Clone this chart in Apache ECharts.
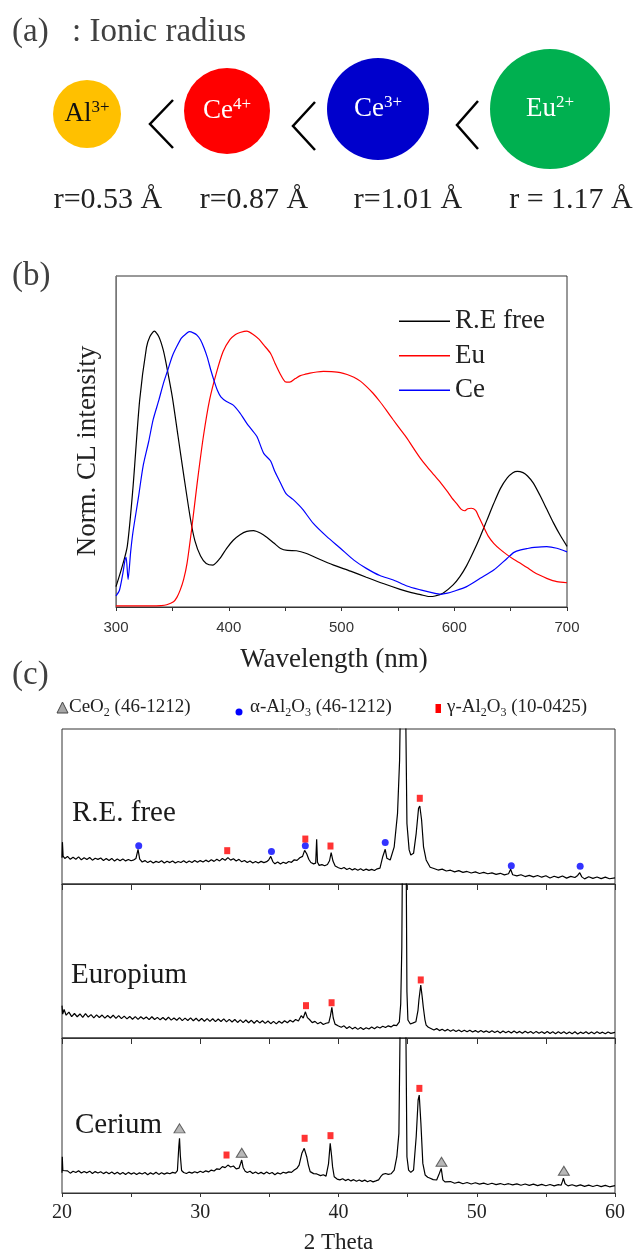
<!DOCTYPE html>
<html><head><meta charset="utf-8">
<script src="https://cdn.jsdelivr.net/npm/echarts@6/dist/echarts.min.js"></script>
<style>html,body{margin:0;padding:0;background:#fff}#c{width:644px;height:1255px}</style>
</head><body><div id="c"></div>
<script>
const SERIF = '"Liberation Serif", "Times New Roman", serif';
const SANS = '"Liberation Sans", Arial, sans-serif';

// ---------- Panel (a): ionic radius ----------
const ionSymbols = ['Al', 'Ce', 'Ce', 'Eu'];
const ionCharges = ['3+', '4+', '3+', '2+'];
const ionRadii = ['0.53', '0.87', '1.01', '1.17'];

// ---------- Panel (b): CL spectra (wavelength nm, normalized intensity) ----------
const bSeriesNames = ['R.E free', 'Eu', 'Ce'];
const bFree = [[300,0.074],[305,0.14],[310,0.22],[315,0.43],[321,0.75],[327,0.94],[330,0.98],[334,1.0],[338,0.98],[342,0.93],[346,0.85],[350,0.76],[355,0.62],[360,0.48],[366,0.32],[370,0.24],[375,0.185],[380,0.158],[386,0.152],[392,0.175],[398,0.212],[404,0.242],[410,0.262],[416,0.274],[422,0.277],[428,0.268],[434,0.252],[440,0.232],[446,0.212],[452,0.205],[460,0.204],[469,0.194],[480,0.174],[493,0.152],[508,0.13],[522,0.108],[537,0.085],[552,0.064],[562,0.052],[570,0.045],[578,0.038],[583,0.04],[590,0.05],[599,0.08],[605,0.11],[611,0.15],[617,0.2],[623,0.255],[629,0.315],[635,0.375],[641,0.43],[647,0.468],[652,0.487],[656,0.492],[661,0.487],[665,0.475],[670,0.45],[676,0.405],[682,0.355],[688,0.305],[694,0.26],[700,0.22]];
const bEu = [[300,0.004],[330,0.004],[340,0.005],[345,0.008],[351,0.019],[354,0.035],[357,0.062],[360,0.1],[363,0.158],[367,0.279],[372,0.449],[377.5,0.618],[383,0.751],[389,0.848],[395,0.926],[401,0.969],[406,0.988],[410,0.995],[416,1.0],[422,0.987],[427,0.97],[431,0.95],[437,0.92],[441,0.884],[446,0.842],[450,0.817],[454,0.815],[459,0.828],[463,0.838],[468,0.844],[472,0.848],[478,0.852],[484,0.854],[491,0.853],[499,0.85],[505,0.843],[511,0.833],[517,0.818],[522,0.8],[528,0.775],[534,0.745],[540,0.712],[546,0.678],[552,0.645],[558,0.612],[564,0.575],[570,0.539],[576,0.508],[582,0.479],[588,0.45],[594,0.418],[598,0.395],[602,0.376],[606,0.355],[609,0.349],[612,0.356],[615,0.358],[619,0.35],[622,0.325],[626,0.291],[630,0.258],[635,0.231],[641,0.208],[647,0.189],[653,0.172],[659,0.158],[665,0.142],[670,0.128],[676,0.115],[682,0.104],[691,0.092],[700,0.088]];
const bCe = [[300,0.04],[303,0.06],[306,0.12],[308,0.17],[309,0.18],[310.7,0.10],[313,0.2],[315,0.27],[320,0.4],[324,0.51],[329,0.6],[333,0.68],[338,0.75],[342,0.81],[346,0.86],[350,0.91],[354,0.945],[358,0.975],[362,0.99],[365,0.998],[369,0.993],[372,0.985],[375,0.968],[378,0.94],[381,0.905],[384,0.86],[387,0.82],[390,0.785],[393,0.762],[398,0.745],[404,0.732],[410,0.703],[416,0.666],[420,0.645],[425,0.618],[431,0.557],[437,0.53],[441,0.49],[446,0.449],[451,0.41],[457,0.39],[462,0.37],[466,0.352],[475,0.303],[487,0.255],[499,0.213],[511,0.17],[522,0.14],[534,0.114],[546,0.098],[558,0.076],[570,0.062],[582,0.05],[588,0.046],[594,0.05],[599,0.056],[611,0.074],[623,0.104],[635,0.134],[647,0.177],[653,0.198],[659,0.207],[665,0.212],[671,0.216],[682,0.219],[691,0.213],[700,0.2]];
// annotations: [main text, superscript, wavelength, intensity]
const bNotes = [['α','',331,1.088],['Ce','',369.6,1.074],['γ,a','',425,1.076],['Eu','2+',500.9,0.944],['Eu','3+',619.3,0.479],['α','',653.9,0.584]];

// ---------- Panel (c): XRD (2 theta, intensity 0-100 within each strip) ----------
const cSampleNames = ['R.E. free', 'Europium', 'Cerium'];
const xrdFree = [[20.0,17],[20.03,27],[20.08,18],[20.2,16.5],[20.4,17.8],[20.6,15.9],[20.8,17.2],[21.0,16.0],[21.2,17.5],[21.4,15.6],[21.6,16.9],[21.8,15.8],[22.0,17.1],[22.2,15.4],[22.4,16.6],[22.6,15.9],[22.8,16.8],[23.0,15.2],[23.2,16.4],[23.4,15.1],[23.6,16.5],[23.8,14.8],[24.0,16.1],[24.2,15.0],[24.4,16.2],[24.6,14.9],[24.8,15.8],[25.0,15.0],[25.2,15.6],[25.35,16.5],[25.5,22.4],[25.62,16.0],[25.8,14.2],[26.0,15.1],[26.2,13.8],[26.4,14.9],[26.6,13.6],[26.8,14.6],[27.0,13.9],[27.2,15.0],[27.4,13.5],[27.6,14.7],[27.8,13.8],[28.0,14.9],[28.2,13.6],[28.4,14.5],[28.6,13.9],[28.8,15.0],[29.0,13.7],[29.2,14.8],[29.4,13.9],[29.6,15.2],[29.8,14.0],[30.0,15.1],[30.2,14.2],[30.4,15.4],[30.6,14.3],[30.8,15.6],[31.0,14.6],[31.2,16.0],[31.4,14.9],[31.6,16.4],[31.8,15.3],[32.0,17.0],[32.2,15.4],[32.4,16.3],[32.6,14.8],[32.8,15.9],[33.0,14.3],[33.2,15.2],[33.4,13.9],[33.6,14.9],[33.8,13.6],[34.0,14.5],[34.2,13.5],[34.4,14.6],[34.6,13.8],[34.8,14.4],[34.95,15.5],[35.1,17.8],[35.25,14.5],[35.4,13.0],[35.6,14.2],[35.8,12.9],[36.0,14.0],[36.2,13.3],[36.4,14.5],[36.6,14.0],[36.8,15.6],[37.0,15.2],[37.2,16.9],[37.4,17.8],[37.55,21.7],[37.7,19.5],[37.85,16.0],[38.0,13.9],[38.2,13.0],[38.35,13.5],[38.42,28.8],[38.48,14.0],[38.6,12.0],[38.8,12.5],[39.0,11.8],[39.2,12.6],[39.35,15.0],[39.47,20.2],[39.6,14.8],[39.76,11.6],[40.0,10.5],[40.2,9.8],[40.4,10.6],[40.6,9.4],[40.8,10.2],[41.0,9.1],[41.2,9.9],[41.4,8.9],[41.6,9.8],[41.8,8.7],[42.0,9.6],[42.2,8.8],[42.4,9.4],[42.6,8.7],[42.8,9.8],[43.0,10.2],[43.2,17.6],[43.38,22.4],[43.5,16.6],[43.74,15.5],[44.03,24],[44.27,45.6],[44.42,80],[44.5,130],[44.6,170],[44.75,170],[44.85,120],[44.95,39],[45.11,22],[45.23,18.7],[45.43,19.8],[45.62,32.7],[45.79,48.8],[45.88,50.3],[46.01,41.3],[46.15,24],[46.34,15.5],[46.63,10.8],[46.9,10.0],[47.2,9.0],[47.5,9.6],[47.8,8.4],[48.1,8.9],[48.4,7.8],[48.7,8.6],[49.0,7.5],[49.3,8.1],[49.6,7.1],[49.9,7.8],[50.2,6.8],[50.5,7.5],[50.8,6.6],[51.1,7.2],[51.4,6.2],[51.7,6.9],[52.0,5.9],[52.3,6.6],[52.45,9.5],[52.6,6.0],[52.9,5.2],[53.2,6.0],[53.5,4.8],[53.8,5.6],[54.1,4.6],[54.4,5.5],[54.7,4.4],[55.0,5.3],[55.3,3.9],[55.6,5.0],[55.9,4.1],[56.2,5.2],[56.5,3.8],[56.8,4.9],[57.1,4.2],[57.3,5.5],[57.45,7.3],[57.6,4.6],[57.8,3.3],[58.1,4.7],[58.4,3.6],[58.7,4.5],[59.0,3.5],[59.3,4.4],[59.6,3.4],[60.0,4.0]];
const xrdEu = [[20.0,21],[20.05,15.5],[20.15,18.5],[20.3,14.8],[20.5,16.8],[20.7,13.9],[20.9,15.9],[21.1,13.8],[21.3,15.6],[21.5,13.4],[21.7,15.8],[21.9,13.6],[22.1,15.2],[22.3,13.1],[22.5,15.0],[22.7,13.3],[22.9,14.9],[23.1,12.9],[23.3,14.6],[23.5,13.0],[23.7,14.8],[23.9,12.7],[24.1,14.5],[24.3,12.6],[24.5,14.2],[24.7,12.4],[24.9,14.0],[25.1,12.2],[25.3,13.9],[25.5,12.1],[25.7,13.8],[25.9,12.3],[26.1,13.6],[26.3,11.9],[26.5,13.8],[26.7,12.0],[26.9,13.4],[27.1,11.8],[27.3,13.3],[27.5,11.7],[27.7,13.5],[27.9,11.6],[28.1,13.0],[28.3,11.5],[28.5,13.2],[28.7,11.3],[28.9,12.9],[29.1,11.4],[29.3,13.1],[29.5,11.2],[29.7,12.8],[29.9,11.0],[30.1,12.7],[30.3,10.9],[30.5,12.6],[30.7,10.8],[30.9,12.5],[31.1,10.6],[31.3,12.3],[31.5,10.7],[31.7,12.4],[31.9,10.5],[32.1,12.1],[32.3,10.4],[32.5,12.0],[32.7,10.1],[32.9,11.8],[33.1,10.0],[33.3,11.7],[33.5,9.9],[33.7,11.5],[33.9,9.6],[34.1,11.4],[34.3,9.8],[34.5,11.2],[34.7,9.5],[34.9,11.0],[35.1,9.3],[35.3,10.8],[35.5,9.2],[35.7,10.9],[35.9,9.6],[36.1,11.2],[36.3,9.9],[36.5,11.5],[36.7,10.4],[36.9,12.0],[37.1,11.0],[37.3,14.5],[37.45,13.0],[37.6,17.0],[37.75,13.2],[37.9,12.0],[38.1,10.0],[38.3,10.8],[38.5,9.2],[38.7,10.2],[38.9,8.8],[39.1,9.6],[39.3,10.0],[39.42,14.5],[39.52,19.9],[39.62,13.0],[39.75,9.0],[40.0,7.8],[40.2,7.0],[40.4,7.9],[40.6,6.2],[40.8,7.4],[41.0,5.9],[41.2,7.0],[41.4,5.6],[41.6,6.8],[41.8,5.5],[42.0,6.7],[42.2,5.8],[42.4,7.1],[42.6,6.0],[42.8,7.3],[43.0,6.5],[43.2,7.6],[43.4,6.8],[43.6,7.9],[43.8,7.2],[44.0,8.4],[44.2,8.0],[44.4,10.5],[44.5,22],[44.58,59],[44.64,140],[44.88,140],[44.95,30],[45.02,11.7],[45.2,9.1],[45.4,9.8],[45.6,10.6],[45.75,18],[45.82,25],[45.95,34.4],[46.05,27],[46.13,20.3],[46.25,12],[46.34,8.4],[46.5,7.0],[46.64,6.3],[46.9,5.2],[47.1,6.1],[47.3,4.8],[47.5,5.7],[47.7,4.6],[47.9,5.6],[48.1,4.4],[48.3,5.3],[48.5,4.2],[48.7,5.2],[48.9,4.1],[49.1,5.0],[49.3,4.0],[49.5,5.1],[49.7,3.9],[49.9,4.8],[50.1,3.7],[50.3,4.9],[50.5,3.8],[50.7,4.6],[50.9,3.5],[51.1,4.7],[51.3,3.6],[51.5,4.5],[51.7,3.3],[51.9,4.6],[52.1,3.4],[52.3,4.4],[52.5,3.2],[52.7,4.5],[52.9,3.3],[53.1,4.3],[53.3,3.1],[53.5,4.4],[53.7,3.2],[53.9,4.2],[54.1,3.0],[54.3,4.3],[54.5,3.1],[54.7,4.1],[54.9,3.0],[55.1,4.2],[55.3,2.9],[55.5,4.0],[55.7,2.8],[55.9,4.1],[56.1,2.9],[56.3,4.0],[56.5,2.7],[56.7,3.9],[56.9,2.8],[57.1,4.0],[57.3,2.6],[57.5,3.8],[57.7,2.9],[57.9,4.1],[58.1,2.7],[58.3,3.9],[58.5,2.8],[58.7,4.0],[58.9,2.9],[59.1,3.8],[59.3,2.7],[59.5,3.9],[59.7,3.0],[60.0,3.6]];
const xrdCe = [[20.0,13],[20.02,23.4],[20.06,14.5],[20.2,13.4],[20.4,14.3],[20.6,12.8],[20.8,14.0],[21.0,13.2],[21.2,14.4],[21.4,12.9],[21.6,13.9],[21.8,13.0],[22.0,14.1],[22.2,12.6],[22.4,13.8],[22.6,12.9],[22.8,13.7],[23.0,12.5],[23.2,13.6],[23.4,12.4],[23.6,13.5],[23.8,12.3],[24.0,13.4],[24.2,12.1],[24.4,13.2],[24.6,12.0],[24.8,13.3],[25.0,12.2],[25.2,13.1],[25.4,11.9],[25.6,13.0],[25.8,12.3],[26.0,13.2],[26.2,11.8],[26.4,13.0],[26.6,12.1],[26.8,13.4],[27.0,12.0],[27.2,13.1],[27.4,12.2],[27.6,13.0],[27.8,12.4],[28.0,13.3],[28.2,12.8],[28.35,14.5],[28.45,30],[28.5,35.3],[28.56,24],[28.65,14.5],[28.8,13.2],[29.0,12.6],[29.2,13.5],[29.4,12.8],[29.6,13.7],[29.8,13.0],[30.0,14.0],[30.2,13.2],[30.4,14.3],[30.6,13.6],[30.8,14.8],[31.0,14.2],[31.2,15.6],[31.4,15.2],[31.6,17.0],[31.8,16.4],[32.0,18.0],[32.2,16.8],[32.4,17.4],[32.6,15.6],[32.8,16.0],[32.92,19],[33.0,21.3],[33.1,16.5],[33.25,14.0],[33.4,13.2],[33.6,14.0],[33.8,12.6],[34.0,13.5],[34.2,12.4],[34.4,13.3],[34.6,12.2],[34.8,13.5],[35.0,12.4],[35.2,13.2],[35.4,11.8],[35.6,13.0],[35.8,12.3],[36.0,13.4],[36.2,12.8],[36.4,13.6],[36.6,13.3],[36.8,14.8],[37.0,16.0],[37.15,18.0],[37.35,25.6],[37.52,28.8],[37.7,23.4],[37.82,18],[37.95,13.8],[38.2,12.5],[38.43,12.3],[38.7,11.2],[38.9,11.8],[39.1,10.9],[39.28,19],[39.4,32],[39.5,24],[39.57,17],[39.69,10.5],[39.9,9.0],[40.1,8.5],[40.3,9.2],[40.5,8.0],[40.7,8.9],[40.9,7.8],[41.1,8.6],[41.3,7.6],[41.5,8.4],[41.7,7.5],[41.9,8.3],[42.1,7.3],[42.3,8.1],[42.5,7.2],[42.7,7.8],[42.9,8.5],[43.05,10.5],[43.2,12.0],[43.4,12.6],[43.6,12.0],[43.8,12.4],[44.03,14.8],[44.22,23.4],[44.37,38.5],[44.46,110],[44.55,160],[44.8,160],[44.88,100],[44.95,23.4],[45.07,14.8],[45.23,13.3],[45.43,14.8],[45.62,36.3],[45.76,60],[45.84,63.2],[45.96,45],[46.1,19.1],[46.27,11.6],[46.45,10.2],[46.63,9.5],[46.85,8.6],[47.1,8.4],[47.3,12.7],[47.43,15.9],[47.55,8.5],[47.7,7.2],[47.84,6.7],[48.1,7.4],[48.4,6.3],[48.7,7.0],[49.0,6.0],[49.3,6.8],[49.6,5.8],[49.9,6.6],[50.2,5.7],[50.5,6.4],[50.8,5.5],[51.1,6.3],[51.4,5.4],[51.7,6.1],[52.0,5.3],[52.3,6.0],[52.6,5.2],[52.9,5.9],[53.2,5.0],[53.5,5.8],[53.8,4.9],[54.1,5.7],[54.4,4.8],[54.7,5.6],[55.0,4.7],[55.3,5.5],[55.6,4.6],[55.9,5.4],[56.1,5.0],[56.2,7.5],[56.27,9.5],[56.39,6.0],[56.6,4.6],[56.9,5.3],[57.2,4.4],[57.5,5.2],[57.8,4.3],[58.1,5.1],[58.4,4.2],[58.7,5.0],[59.0,4.1],[59.3,4.9],[59.6,4.0],[60.0,4.8]];
// phase markers [2theta, height]
const freeAlpha = [[25.55,24.7],[35.15,20.9],[37.6,24.7],[43.38,26.7],[52.5,11.8],[57.48,11.4]];
const freeGamma = [[31.95,21.5],[37.6,29],[39.42,24.5],[45.88,55.3]];
const euGamma = [[37.65,21],[39.5,22.9],[45.95,37.7]];
const ceCeO2 = [[28.5,41.7],[33.0,26],[47.45,20.2],[56.3,14.4]];
const ceGamma = [[31.9,24.5],[37.55,35.3],[39.42,37],[45.85,67.5]];
const phaseLegend = [['CeO','2','',' (46-1212)'],['α-Al','2','O','3',' (46-1212)'],['γ-Al','2','O','3',' (10-0425)']];

// ---------- layout / style ----------
const ionStyle = [
  {cx:87, cy:114, r:34, fill:'#FFC000', text:'#111'},
  {cx:227, cy:111, r:43, fill:'#FF0000', text:'#fff'},
  {cx:378, cy:109, r:51, fill:'#0000CC', text:'#fff'},
  {cx:550, cy:109, r:60, fill:'#00B050', text:'#fff'}];
const rLabelX = [108, 254, 408, 571];
const chevrons = [[[173,100],[150,124],[173,148]],[[315,102],[293,126],[315,150]],[[478,101],[457,125],[478,149]]];

const g = [];
g.push({type:'text', silent:true, style:{x:12, y:32, text:'(a)', font:'33px '+SERIF, fill:'#404040', verticalAlign:'middle'}});
g.push({type:'text', silent:true, style:{x:72, y:32, text:': Ionic radius', font:'33px '+SERIF, fill:'#404040', verticalAlign:'middle'}});
ionSymbols.forEach((s, i) => {
  const st = ionStyle[i];
  g.push({type:'circle', silent:true, shape:{cx:st.cx, cy:st.cy, r:st.r}, style:{fill:st.fill}});
  g.push({type:'text', silent:true, style:{x:st.cx, y:st.cy, text:'{m|'+s+'}{p|'+ionCharges[i]+'}', align:'center', verticalAlign:'middle',
    rich:{m:{fontSize:27, fontFamily:SERIF, fill:st.text, lineHeight:30}, p:{fontSize:17, fontFamily:SERIF, fill:st.text, lineHeight:17, verticalAlign:'top'}}}});
  g.push({type:'text', silent:true, style:{x:rLabelX[i], y:200, text:(i===3?'r = ':'r=')+ionRadii[i]+' Å', align:'center', verticalAlign:'middle', font:'30px '+SERIF, fill:'#222'}});
});
chevrons.forEach(p => g.push({type:'polyline', silent:true, shape:{points:p}, style:{stroke:'#000', lineWidth:2.5, fill:null}}));

g.push({type:'text', silent:true, style:{x:12, y:276, text:'(b)', font:'33px '+SERIF, fill:'#404040', verticalAlign:'middle'}});
g.push({type:'text', silent:true, style:{x:334, y:660, text:'Wavelength (nm)', font:'27px '+SERIF, fill:'#222', align:'center', verticalAlign:'middle'}});
g.push({type:'text', silent:true, x:88, y:451, rotation:Math.PI/2, style:{x:0, y:0, text:'Norm. CL intensity', font:'27px '+SERIF, fill:'#222', align:'center', verticalAlign:'middle'}});

g.push({type:'text', silent:true, style:{x:12, y:675, text:'(c)', font:'33px '+SERIF, fill:'#404040', verticalAlign:'middle'}});
// phase legend
const legRich = {n:{fontSize:19, fontFamily:SERIF, fill:'#222', lineHeight:24}, s:{fontSize:12, fontFamily:SERIF, fill:'#222', lineHeight:12, verticalAlign:'bottom'}};
g.push({type:'polygon', silent:true, shape:{points:[[57,713],[62.5,702],[68,713]]}, style:{fill:'#A6A6A6', stroke:'#444', lineWidth:1}});
g.push({type:'text', silent:true, style:{x:69, y:707, verticalAlign:'middle', text:'{n|'+phaseLegend[0][0]+'}{s|'+phaseLegend[0][1]+'}{n|'+phaseLegend[0][3]+'}', rich:legRich}});
g.push({type:'circle', silent:true, shape:{cx:239, cy:712, r:3.5}, style:{fill:'#0000FF'}});
g.push({type:'text', silent:true, style:{x:250, y:707, verticalAlign:'middle', text:'{n|'+phaseLegend[1][0]+'}{s|'+phaseLegend[1][1]+'}{n|'+phaseLegend[1][2]+'}{s|'+phaseLegend[1][3]+'}{n|'+phaseLegend[1][4]+'}', rich:legRich}});
g.push({type:'rect', silent:true, shape:{x:435.5, y:704, width:5.5, height:9}, style:{fill:'#FF0000'}});
g.push({type:'text', silent:true, style:{x:447, y:707, verticalAlign:'middle', text:'{n|'+phaseLegend[2][0]+'}{s|'+phaseLegend[2][1]+'}{n|'+phaseLegend[2][2]+'}{s|'+phaseLegend[2][3]+'}{n|'+phaseLegend[2][4]+'}', rich:legRich}});
// strip labels
const stripLabelPos = [[72,813],[71,975],[75,1125]];
cSampleNames.forEach((n, i) => g.push({type:'text', silent:true, style:{x:stripLabelPos[i][0], y:stripLabelPos[i][1], text:n, font:'29px '+SERIF, fill:'#1a1a1a', verticalAlign:'middle'}}));

// ---------- chart ----------
const AX = '#333';
const grids = [
  {left:116, top:276, width:451, height:331},
  {left:62, top:729, width:553, height:155},
  {left:62, top:884, width:553, height:154},
  {left:62, top:1038, width:553, height:155}].map(o => Object.assign(o, {show:true, borderColor:AX, borderWidth:1, backgroundColor:'transparent', containLabel:false, outerBoundsMode:'none'}));

function xrdX(gi, opts) {
  return Object.assign({type:'value', gridIndex:gi, min:20, max:60, interval:5, splitLine:{show:false},
    axisLine:{show:true, lineStyle:{color:AX, width:1}}, axisTick:{show:false}, axisLabel:{show:false}}, opts || {});
}
const xAxes = [
  {type:'value', gridIndex:0, min:300, max:700, interval:50, splitLine:{show:false},
   axisLine:{show:true, onZero:false, lineStyle:{color:AX}}, axisTick:{show:true, inside:false, length:4, lineStyle:{color:AX}},
   axisLabel:{show:true, margin:13, fontFamily:SANS, fontSize:15, color:'#333', showMinLabel:true, showMaxLabel:true, formatter:v => (v % 100 === 0 ? String(v) : '')}},
  xrdX(1), xrdX(2),
  xrdX(3, {axisTick:{show:true, inside:false, length:4, lineStyle:{color:AX}},
    axisLabel:{show:true, margin:10, fontFamily:SERIF, fontSize:20, color:'#222', showMinLabel:true, showMaxLabel:true, formatter:v => (v % 10 === 0 ? String(v) : '')},
    name:'2 Theta', nameLocation:'middle', nameGap:38, nameTextStyle:{fontFamily:SERIF, fontSize:23, color:'#222'}}),
  xrdX(2, {position:'top', axisTick:{show:true, inside:true, length:6, lineStyle:{color:AX}}}),
  xrdX(3, {position:'top', axisTick:{show:true, inside:true, length:6, lineStyle:{color:AX}}})
];
const yAxes = [
  {type:'value', gridIndex:0, min:0, max:1.2, splitLine:{show:false}, axisLabel:{show:false}, axisTick:{show:false}, axisLine:{show:true, lineStyle:{color:'#777'}}},
  {type:'value', gridIndex:1, min:0, max:100, show:false},
  {type:'value', gridIndex:2, min:0, max:100, show:false},
  {type:'value', gridIndex:3, min:0, max:100, show:false}
];

const bColors = ['#000000', '#FF0000', '#0000FF'];
const series = [];
[bFree, bEu, bCe].forEach((d, i) => series.push({type:'line', name:bSeriesNames[i], data:d, xAxisIndex:0, yAxisIndex:0,
  showSymbol:false, symbol:'none', smooth:0.25, lineStyle:{color:bColors[i], width:1.2}, itemStyle:{color:bColors[i]}, clip:true, silent:true}));
series.push({type:'scatter', xAxisIndex:0, yAxisIndex:0, symbolSize:1, itemStyle:{opacity:0}, silent:true,
  data:bNotes.map(n => ({value:[n[2], n[3]], main:n[0], sup:n[1]})),
  label:{show:true, position:'inside', formatter:p => '{m|'+p.data.main+'}' + (p.data.sup ? '{p|'+p.data.sup+'}' : ''),
    rich:{m:{fontSize:31, fontFamily:SERIF, color:'#595959', lineHeight:34}, p:{fontSize:20, fontFamily:SERIF, color:'#595959', lineHeight:20, verticalAlign:'top'}}}});

[xrdFree, xrdEu, xrdCe].forEach((d, i) => series.push({type:'line', name:cSampleNames[i], data:d, xAxisIndex:i+1, yAxisIndex:i+1,
  showSymbol:false, symbol:'none', lineStyle:{color:'#000', width:1.2}, clip:true, silent:true}));

function markers(data, gi, kind) {
  const base = {type:'scatter', xAxisIndex:gi, yAxisIndex:gi, data, silent:true, z:5};
  if (kind === 'alpha') return Object.assign(base, {symbol:'circle', symbolSize:7, itemStyle:{color:'#0000FF'}});
  if (kind === 'gamma') return Object.assign(base, {symbol:'rect', symbolSize:[6,7], itemStyle:{color:'#FF0000'}});
  return Object.assign(base, {symbol:'triangle', symbolSize:[11,9], itemStyle:{color:'#A6A6A6', borderColor:'#444', borderWidth:1}});
}
series.push(markers(freeAlpha, 1, 'alpha'), markers(freeGamma, 1, 'gamma'), markers(euGamma, 2, 'gamma'),
  markers(ceCeO2, 3, 'ceo2'), markers(ceGamma, 3, 'gamma'));

const chart = echarts.init(document.getElementById('c'), null, {renderer:'canvas'});
chart.setOption({
  animation:false,
  backgroundColor:'#fff',
  textStyle:{fontFamily:SERIF},
  grid:grids, xAxis:xAxes, yAxis:yAxes, series,
  legend:[{show:true, orient:'vertical', left:394, top:299, icon:'rect', itemWidth:51, itemHeight:1.3, itemGap:0, selectedMode:false,
    data:bSeriesNames, textStyle:{fontFamily:SERIF, fontSize:27, color:'#222', lineHeight:34.5}}],
  graphic:g
});
</script></body></html>
